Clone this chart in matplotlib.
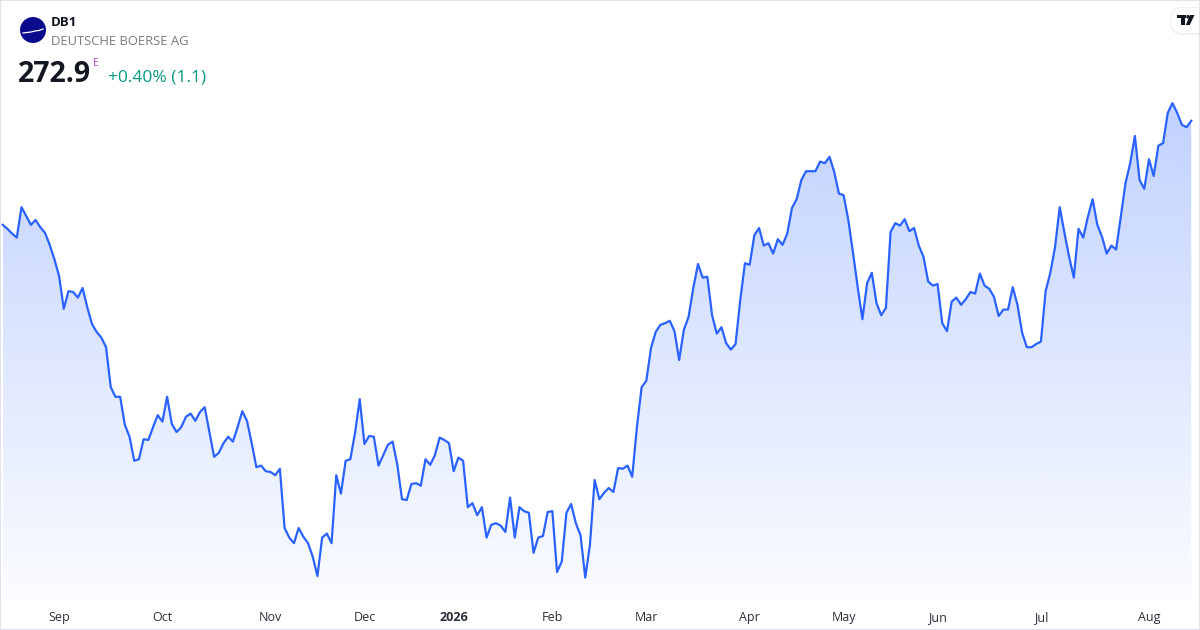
import numpy as np
import matplotlib.pyplot as plt
from matplotlib.patches import Circle, FancyBboxPatch, Rectangle, Polygon
from matplotlib.transforms import IdentityTransform

plt.rcParams['font.family'] = ['Open Sans', 'DejaVu Sans']

# daily closes, mid Aug 2025 -> mid Aug 2026
prices = [
    259.9, 259.4, 258.8, 258.3, 262.1, 261.0, 259.9, 260.5, 259.6, 258.9,
    257.4, 255.6, 253.5, 249.4, 251.6, 251.5, 250.8, 252.0, 249.6, 247.5,
    246.5, 245.8, 244.6, 239.6, 238.4, 238.4, 234.9, 233.4, 230.4, 230.6,
    233.1, 233.0, 234.6, 236.1, 235.3, 238.4, 235.0, 234.0, 234.6, 235.9,
    236.3, 235.4, 236.5,
    237.1, 234.0, 230.9, 231.4, 232.6, 233.4, 232.8, 234.6, 236.6, 235.4,
    232.6, 229.6, 229.8, 229.1, 229.0, 228.6, 229.4, 222.0, 220.8, 220.1,
    222.0, 220.9, 220.1, 218.4, 216.0, 220.8, 221.3, 220.1, 228.6, 226.3,
    230.4, 230.6, 233.9, 238.1, 232.5, 233.5, 233.4, 229.8, 231.1, 232.4,
    232.8, 229.9, 225.6, 225.5, 227.5, 227.6, 227.3, 230.6, 229.9, 231.1,
    233.3, 233.0, 232.6, 229.1, 230.8, 230.4, 224.6, 225.1, 223.6, 224.6,
    220.8, 222.4, 222.6, 222.3, 221.5, 225.8, 220.8, 224.6, 224.1, 223.9,
    218.9, 220.8, 221.0, 224.0, 224.1, 216.5, 217.8, 223.9, 225.0, 222.6,
    221.1, 215.8, 219.9, 228.0, 225.6,
    226.4, 227.0, 226.5, 229.5, 229.4, 229.8, 228.4, 234.6, 239.6, 240.4,
    244.5, 246.5, 247.4, 247.6, 247.9, 246.6, 243.0, 246.8, 248.4, 252.0,
    255.0, 253.3, 253.4, 248.6, 246.3, 247.1, 245.1, 244.3, 245.0, 250.5,
    255.1, 254.9, 258.6, 259.5, 257.3, 257.6, 256.3, 258.1, 257.4, 258.8,
    262.0, 263.1, 265.5, 266.6, 266.6, 266.6, 267.8, 267.6, 268.4, 266.5,
    263.8, 263.6, 260.5, 256.4, 252.1, 248.1, 252.6, 253.9, 250.1, 248.6,
    249.5, 259.0, 260.1, 259.8, 260.6, 259.1, 259.5, 257.3, 255.9, 252.8,
    252.3, 252.5, 247.6, 246.6, 250.3, 250.8, 249.9, 250.6, 251.5, 251.3,
    253.8, 252.3, 251.9, 250.9, 248.5,
    249.3, 249.3, 252.1, 249.9, 246.4, 244.6, 244.6, 245.0, 245.3, 251.6,
    253.9, 257.1, 262.1, 258.9, 255.9, 253.3, 259.4, 258.3, 260.9, 263.1,
    259.9, 258.4, 256.3, 257.3, 256.8, 260.9, 265.1, 267.6, 271.0, 265.5,
    264.4, 268.1, 266.0, 269.8, 270.1, 273.9, 275.1, 273.9, 272.4, 272.1,
    272.9,
]

month_labels = ["Sep", "Oct", "Nov", "Dec", "2026", "Feb", "Mar", "Apr",
                "May", "Jun", "Jul", "Aug"]
month_starts = [12, 34, 57, 77, 96, 117, 137, 159, 179, 199, 221, 244]

W, H = 1200, 630
line_color = "#2962FF"

fig = plt.figure(figsize=(W / 100, H / 100), dpi=100)
fig.patch.set_facecolor("white")

ax = fig.add_axes([0, 30 / H, 1, 600 / H])
x = np.arange(len(prices))
ymin, ymax = 213, 288

# gradient area under the line
top = max(prices)
grad = np.zeros((256, 1, 4))
grad[:, 0, 0] = 41 / 255
grad[:, 0, 1] = 98 / 255
grad[:, 0, 2] = 1.0
grad[:, 0, 3] = np.linspace(0.02, 0.29, 256)
poly = ax.fill_between(x, prices, ymin, color="none", lw=0)
im = ax.imshow(grad, extent=[x[0], x[-1], ymin, top], aspect="auto",
               origin="lower", zorder=1)
im.set_clip_path(poly.get_paths()[0], transform=ax.transData)
ax.set_xlim(-0.575, 254.86)
ax.set_ylim(ymin, ymax)

ax.plot(x, prices, color=line_color, lw=1.6, zorder=2, solid_joinstyle="round")

for s in ax.spines.values():
    s.set_visible(False)
ax.set_yticks([])
ax.set_xticks(month_starts, month_labels)
ax.tick_params(axis="x", length=0, pad=8, labelsize=9, labelcolor="#2a2e39")
ax.get_xticklabels()[4].set_fontweight("bold")
ax.set_facecolor("none")


def fy(py):
    return 1 - py / H


# header
logo = Circle((33, H - 30), 13, transform=IdentityTransform(),
              facecolor="#0a0a8c", edgecolor="none")
fig.patches.append(logo)
wx = np.array([23, 27, 31, 35, 39, 43])
wy = np.array([33, 32.5, 32, 31, 30.5, 29])
fig.lines.append(plt.Line2D(wx, H - wy, transform=IdentityTransform(),
                            color="white", lw=0.9))

fig.text(51 / W, fy(26), "DB1", fontsize=9.5, fontweight="bold",
         color="#131722", va="baseline")
fig.text(51 / W, fy(45), "DEUTSCHE BOERSE AG", fontsize=9.4,
         color="#787b86", va="baseline")
fig.text(18 / W, fy(82), "272.9", fontsize=20.5, fontweight="bold",
         color="#131722", va="baseline")
fig.text(93 / W, fy(66), "E", fontsize=7.5, color="#ab47bc", va="baseline")
fig.text(108 / W, fy(82), "+0.40% (1.1)", fontsize=12.5,
         color="#089981", va="baseline")

# TradingView badge top right
shadow = FancyBboxPatch((1170, H - 35), 40, 28,
                        boxstyle="round,pad=0,rounding_size=13",
                        transform=IdentityTransform(),
                        facecolor="#000000", alpha=0.06, edgecolor="none")
badge = FancyBboxPatch((1171, H - 33), 40, 25,
                       boxstyle="round,pad=0,rounding_size=12",
                       transform=IdentityTransform(),
                       facecolor="white", edgecolor="none")
fig.patches.extend([shadow, badge])
tv = [
    [(1177, 15), (1186, 15), (1186, 18.3), (1184.5, 18.3), (1184.5, 25),
     (1181, 25), (1181, 18.3), (1177, 18.3)],
    [(1190, 15), (1194.5, 15), (1189.8, 25), (1185.8, 25)],
]
for pts in tv:
    fig.patches.append(Polygon([(px, H - py) for px, py in pts], closed=True,
                               transform=IdentityTransform(),
                               facecolor="#131722", edgecolor="none"))
fig.patches.append(Circle((1188, H - 16.8), 1.8, transform=IdentityTransform(),
                          facecolor="#131722", edgecolor="none"))

# outer frame
fig.patches.append(Rectangle((0, 0), 1, 1, transform=fig.transFigure,
                             fill=False, edgecolor="#e0e3eb", lw=1.5))

fig.savefig("out.png", dpi=100)
